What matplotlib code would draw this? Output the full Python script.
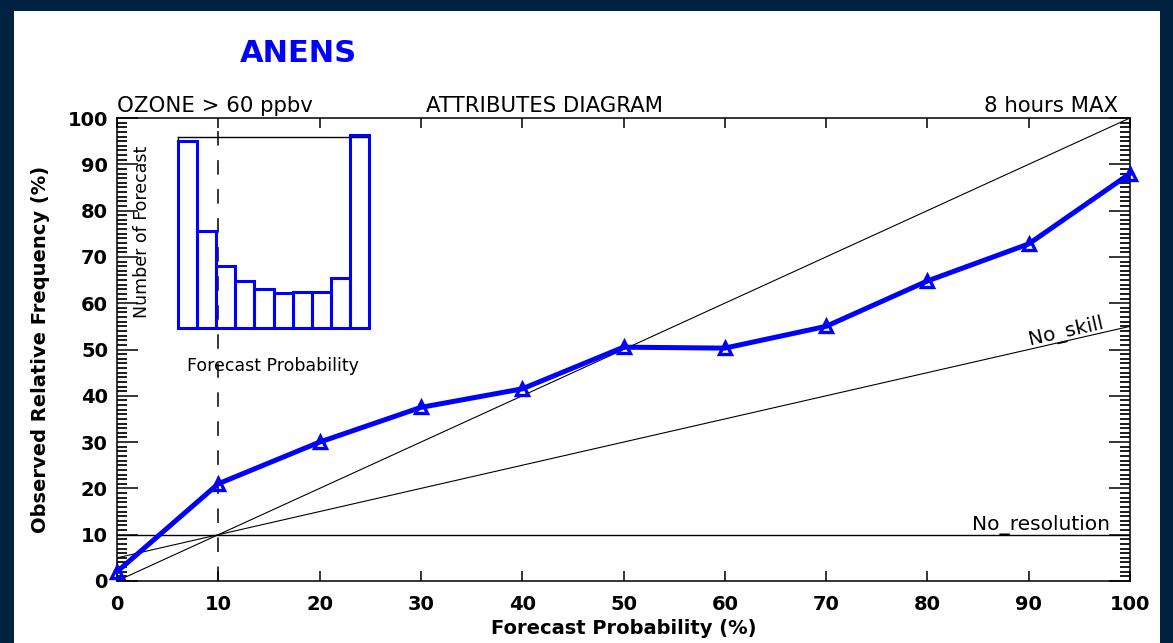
import matplotlib
matplotlib.use('Agg')
import matplotlib.pyplot as plt
from matplotlib.patches import Rectangle
from matplotlib.ticker import NullLocator, FixedLocator

# ---------------- data ----------------
forecast_prob = [0, 10, 20, 30, 40, 50, 60, 70, 80, 90, 100]
observed_freq = [2.0, 21.0, 30.0, 37.5, 41.5, 50.5, 50.3, 55.0, 64.8, 72.8, 88.0]
hist_counts = [187, 97, 62, 47, 39, 35, 36, 36, 50, 193]
hist_top = 191
x_ticks = [0, 10, 20, 30, 40, 50, 60, 70, 80, 90, 100]
y_ticks = [0, 10, 20, 30, 40, 50, 60, 70, 80, 90, 100]
y_minor = [v for v in range(0, 101) if v % 10 != 0]
climatology = 10
title = 'ANENS'
left_text = 'OZONE > 60 ppbv'
mid_text = 'ATTRIBUTES DIAGRAM'
right_text = '8 hours MAX'

plt.rcParams['font.family'] = ['DejaVu Sans']
plt.rcParams['font.weight'] = 'bold'
plt.rcParams['xtick.labelsize'] = 14
plt.rcParams['ytick.labelsize'] = 14
lab_fs = 14

W, H = 1173, 643
fig = plt.figure(figsize=(W / 100, H / 100), dpi=100, facecolor='#012240')
fig.add_artist(Rectangle((14 / W, 0), (1160 - 14) / W, 1 - 11 / H,
                         transform=fig.transFigure, facecolor='white',
                         edgecolor='none', zorder=-1))

ax = fig.add_axes([117 / W, 1 - 581 / H, (1130 - 117) / W, (581 - 118) / H])
ax.set_xlim(0, 100)
ax.set_ylim(0, 100)
for s in ax.spines.values():
    s.set_linewidth(1.1)
    s.set_color('black')

# reference lines
ax.plot([0, 100], [0, 100], color='black', lw=0.8, zorder=2)
ax.plot([0, 100], [climatology / 2, (100 + climatology) / 2], color='black', lw=0.8, zorder=2)
ax.axhline(climatology, color='black', lw=1.0, zorder=2)
ax.axvline(climatology, color='black', lw=1.1, linestyle=(0, (9.5, 9.5)), zorder=2)

ax.text(91.2, 11.0, 'No_resolution', ha='center', va='baseline', fontsize=14.5,
        fontweight='normal', color='black')
ax.text(93.8, 52.8, 'No_skill', ha='center', va='baseline', fontsize=14.5,
        fontweight='normal', color='black', rotation=26.565,
        rotation_mode='anchor', transform_rotates_text=True)

# reliability curve
ax.plot(forecast_prob, observed_freq, color='#0000ff', lw=3.6, marker='^', ms=9,
        mfc='none', mec='#0000ff', mew=2.4, clip_on=False, zorder=5)

# axis labels
ax.text(0.5, -(628 - 581) / 463, 'Forecast Probability (%)', transform=ax.transAxes,
        ha='center', va='center', fontsize=lab_fs, fontweight='bold')
ax.text((41 - 117) / 1013, 0.5, 'Observed Relative Frequency (%)', transform=ax.transAxes,
        ha='center', va='center', rotation=90, fontsize=lab_fs, fontweight='bold')

# top texts
ytop = 1 + (118 - 112) / 463
ax.text(0.0, ytop, left_text, transform=ax.transAxes, ha='left', va='baseline',
        fontsize=15.3, fontweight='normal')
ax.text((545 - 117) / 1013, ytop, mid_text, transform=ax.transAxes, ha='center',
        va='baseline', fontsize=15.3, fontweight='normal')
ax.text((1118 - 117) / 1013, ytop, right_text, transform=ax.transAxes, ha='right',
        va='baseline', fontsize=15.3, fontweight='normal')
fig.text(298 / W, 1 - 62 / H, title, ha='center', va='baseline', fontsize=22,
         fontweight='bold', color='#0000ff')

# inset histogram
axin = fig.add_axes([178 / W, 1 - 328 / H, (369 - 178) / W, (328 - 137) / H])
axin.set_facecolor('none')
axin.bar(range(len(hist_counts)), hist_counts, width=1, align='edge', fill=False,
         edgecolor='#0000ff', lw=2.2, clip_on=False, zorder=3)
axin.set_xlim(0, len(hist_counts))
axin.set_ylim(0, hist_top)
axin.xaxis.set_major_locator(NullLocator())
axin.yaxis.set_major_locator(NullLocator())
for s in axin.spines.values():
    s.set_linewidth(1.0)
    s.set_color('black')
ax.text((141.7 - 117) / 1013, (581 - 232) / 463, 'Number of Forecast', transform=ax.transAxes,
        ha='center', va='center', rotation=90, fontsize=12.5, fontweight='normal')
ax.text((273 - 117) / 1013, (581 - 366) / 463, 'Forecast Probability', transform=ax.transAxes,
        ha='center', va='center', fontsize=12.5, fontweight='normal')

# ticks (set last)
ax.xaxis.set_major_locator(FixedLocator(x_ticks))
ax.yaxis.set_major_locator(FixedLocator(y_ticks))
ax.yaxis.set_minor_locator(FixedLocator(y_minor))
ax.xaxis.set_minor_locator(NullLocator())
ax.tick_params(axis='both', which='both', direction='in', top=True, right=True,
               labeltop=False, labelright=False)
ax.tick_params(axis='y', which='major', length=15, width=1.1, pad=6.5, color='black')
ax.tick_params(axis='y', which='minor', length=7, width=1.25, left=True, right=True,
               color='black')
ax.tick_params(axis='x', which='major', length=7.2, width=1.1, pad=10, color='black')

fig.canvas.draw()
fig.savefig('out.png', dpi=100, facecolor=fig.get_facecolor())
